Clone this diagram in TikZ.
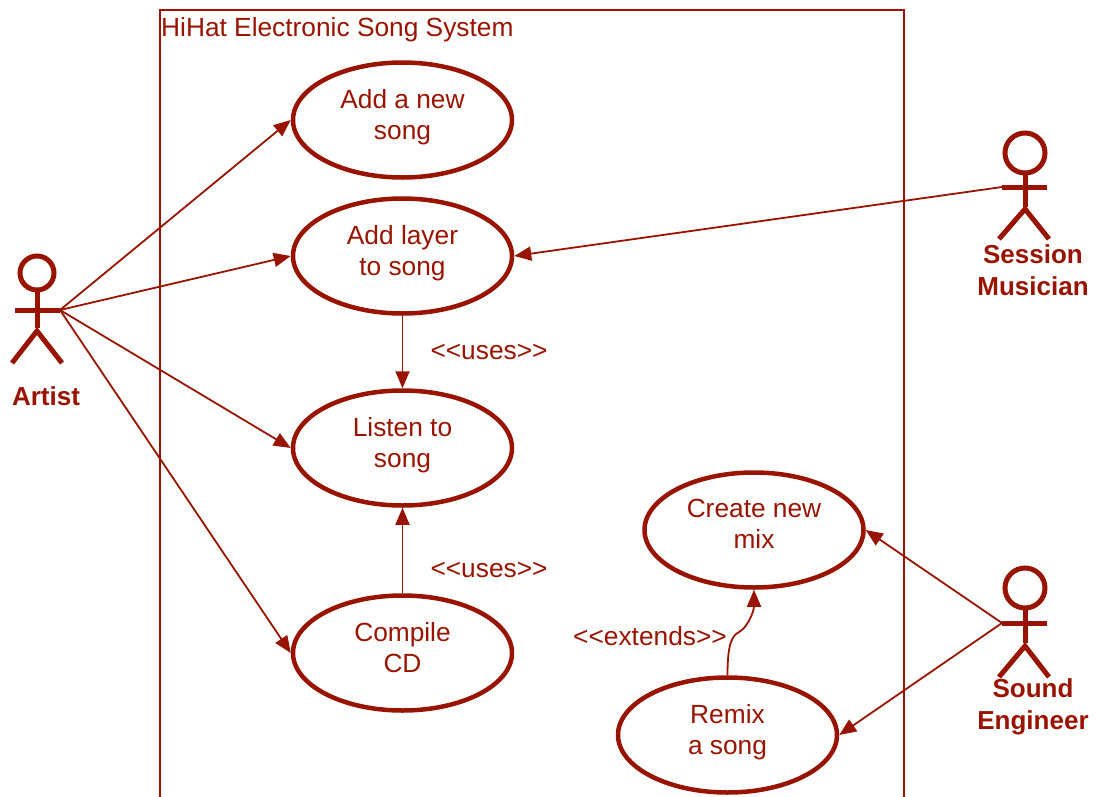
\documentclass[tikz,border=0pt]{standalone}
\usepackage{fontspec}
\setmainfont{Liberation Sans}
\usetikzlibrary{shapes.geometric,arrows.meta}
\definecolor{umlred}{RGB}{153,20,0}
\tikzset{
  usecase/.style={ellipse,draw=umlred,line width=4.5pt,minimum width=219pt,minimum height=115pt,inner sep=0pt,align=center,text depth=12pt,text=umlred,font=\fontsize{26.3}{31}\selectfont},
  conn/.style={draw=umlred,line width=1.8pt,-{Triangle[length=17pt,width=14pt]}},
  stick/.style={draw=umlred,line width=5pt},
  actorlabel/.style={text=umlred,align=center,font=\fontsize{26}{32}\selectfont\bfseries},
  stereo/.style={text=umlred,font=\fontsize{26.3}{31}\selectfont},
}
\begin{document}
\begin{tikzpicture}[x=1pt,y=-1pt]
\useasboundingbox (0,0) rectangle (1096,796);
% system boundary
\draw[umlred,line width=1.8pt] (160,830) -- (160,10) -- (904,10) -- (904,830);
\node[stereo,anchor=base west,inner sep=0pt] (title) at (161,36) {HiHat Electronic Song System};
% use cases
\node[usecase] (newsong) at (402.5,120) {Add a new\\song};
\node[usecase] (layer) at (402.5,256) {Add layer\\to song};
\node[usecase] (listen) at (402.5,448) {Listen to\\song};
\node[usecase] (compile) at (402.5,653) {Compile\\CD};
\node[usecase] (mix) at (754,530) {Create new\\mix};
\node[usecase] (remix) at (727.5,735) {Remix\\a song};
% actors
\begin{scope}[shift={(37,310)}]
  \draw[stick] (0,-37) circle (17);
  \draw[stick] (-22,0) -- (23,0);
  \draw[stick] (0,-20) -- (0,18);
  \draw[stick] (-25,53) -- (0,21) -- (25,53);
\end{scope}
\coordinate (artist) at (60,310);
\node[actorlabel] (artistlbl) at (46,396) {Artist};
\begin{scope}[shift={(1025,187)}]
  \draw[stick] (0,-34) circle (20);
  \draw[stick] (-23,0) -- (22,0);
  \draw[stick] (0,-14) -- (0,20);
  \draw[stick] (-26,52) -- (0,22) -- (24,52);
\end{scope}
\coordinate (session) at (1002,187);
\node[actorlabel] (sessionlbl) at (1033,270) {Session\\Musician};
\begin{scope}[shift={(1025,623)}]
  \draw[stick] (0,-35) circle (20);
  \draw[stick] (-23,0) -- (22,0);
  \draw[stick] (0,-15) -- (0,20);
  \draw[stick] (-26,54) -- (0,23) -- (24,54);
\end{scope}
\coordinate (sound) at (1002,623);
\node[actorlabel] (soundlbl) at (1033,707) {Sound\\Engineer};
% connectors
\draw[conn] (artist) -- (newsong.west);
\draw[conn] (artist) -- (layer.west);
\draw[conn] (artist) -- (listen.west);
\draw[conn] (artist) -- (compile.west);
\draw[conn] (session) -- (layer.east);
\draw[conn] (sound) -- (mix.east);
\draw[conn] (sound) -- (remix.east);
\draw[conn] (layer.south) -- (listen.north);
\draw[conn] (compile.north) -- (listen.south);
\coordinate (extmid) at (739,632);
\draw[conn] (remix.north) .. controls +(0,-32) and +(-7,4) .. (extmid) .. controls +(8,-4) and +(0,22) .. (mix.south);
% stereotypes
\node[stereo] (uses1) at (489,352) {<{}<uses>{}>};
\node[stereo] (uses2) at (489,570) {<{}<uses>{}>};
\node[stereo] (ext) at (650,636) {<{}<extends>{}>};
\end{tikzpicture}
\end{document}
